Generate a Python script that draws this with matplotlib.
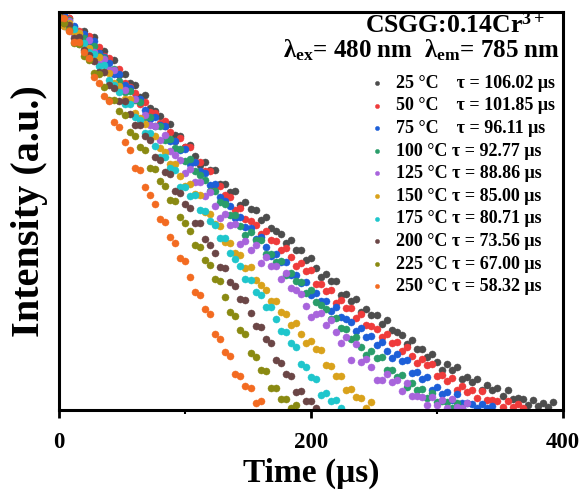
import matplotlib
matplotlib.use("Agg")
import matplotlib.pyplot as plt
from matplotlib.ticker import FixedLocator, NullLocator

plt.rcParams['font.family'] = ['Liberation Serif', 'DejaVu Serif']
plt.rcParams['font.weight'] = 'bold'
plt.rcParams['mathtext.fontset'] = 'custom'
plt.rcParams['mathtext.rm'] = 'Liberation Serif:bold'
plt.rcParams['mathtext.bf'] = 'Liberation Serif:bold'
plt.rcParams['mathtext.it'] = 'Liberation Serif:italic:bold'

# time channels (us)
time_us = [0, 4, 8, 12, 16, 20, 24, 28, 32, 36, 40, 44, 48, 52, 56, 60, 64, 68, 72, 76,
           80, 84, 88, 92, 96, 100, 104, 108, 112, 116, 120, 124, 128, 132, 136, 140,
           144, 148, 152, 156, 160, 164, 168, 172, 176, 180, 184, 188, 192, 196, 200,
           204, 208, 212, 216, 220, 224, 228, 232, 236, 240, 244, 248, 252, 256, 260,
           264, 268, 272, 276, 280, 284, 288, 292, 296, 300, 304, 308, 312, 316, 320,
           324, 328, 332, 336, 340, 344, 348, 352, 356, 360, 364, 368, 372, 376, 380,
           384, 388, 392, 396]

temps = ['25', '50', '75', '100', '125', '150', '175', '200', '225', '250']
taus = ['106.02', '101.85', '96.11', '92.77', '88.86', '85.00', '80.71', '73.56', '67.00', '58.32']
colors = ['#4d4d4d', '#ef3b3b', '#1d5fd8', '#2a9d6a', '#a864dc',
          '#d9a21b', '#1fc6cc', '#6b4646', '#8a8a12', '#f36b21']

# decay curves, log10(counts)
log_25C = [3.95, 3.88, 3.92, 3.83, 3.75, 3.79, 3.72, 3.73, 3.60, 3.59, 3.50, 3.50, 3.35, 3.36,
           3.27, 3.25, 3.13, 3.15, 3.02, 2.99, 2.94, 2.84, 2.86, 2.75, 2.74, 2.63, 2.65, 2.54,
           2.45, 2.48, 2.40, 2.40, 2.26, 2.26, 2.18, 2.19, 2.05, 2.08, 2.01, 2.00, 1.90, 1.93,
           1.82, 1.79, 1.76, 1.67, 1.70, 1.60, 1.60, 1.50, 1.52, 1.42, 1.33, 1.36, 1.29, 1.29,
           1.15, 1.16, 1.09, 1.11, 0.98, 1.01, 0.95, 0.95, 0.86, 0.90, 0.80, 0.78, 0.75, 0.66,
           0.70, 0.61, 0.61, 0.53, 0.56, 0.48, 0.40, 0.46, 0.40, 0.43, 0.31, 0.33, 0.28, 0.31,
           0.20, 0.25, 0.20, 0.22, 0.14, 0.20, 0.11, 0.12, 0.11, 0.05, 0.10, 0.04, 0.07, 0.03,
           0.08]
log_50C = [3.96, 3.91, 3.92, 3.78, 3.79, 3.72, 3.74, 3.60, 3.63, 3.54, 3.52, 3.39, 3.41, 3.27,
           3.23, 3.17, 3.06, 3.08, 2.98, 2.97, 2.87, 2.89, 2.78, 2.69, 2.72, 2.63, 2.63, 2.48,
           2.48, 2.39, 2.39, 2.23, 2.24, 2.15, 2.13, 2.00, 2.02, 1.91, 1.89, 1.85, 1.76, 1.79,
           1.70, 1.69, 1.60, 1.62, 1.53, 1.44, 1.47, 1.39, 1.40, 1.26, 1.26, 1.19, 1.20, 1.07,
           1.10, 1.02, 1.02, 0.92, 0.96, 0.85, 0.84, 0.81, 0.73, 0.76, 0.67, 0.68, 0.59, 0.63,
           0.54, 0.47, 0.51, 0.45, 0.46, 0.34, 0.35, 0.29, 0.32, 0.20, 0.24, 0.18, 0.20, 0.12,
           0.19, 0.10, 0.10, 0.09, 0.03, 0.09, 0.03, 0.06, 0.02]
log_75C = [3.93, 3.95, 3.81, 3.84, 3.76, 3.76, 3.65, 3.69, 3.57, 3.53, 3.47, 3.36, 3.36, 3.25,
           3.22, 3.11, 3.11, 3.00, 2.91, 2.93, 2.85, 2.84, 2.69, 2.69, 2.60, 2.61, 2.46, 2.48,
           2.39, 2.37, 2.25, 2.26, 2.13, 2.09, 2.04, 1.92, 1.93, 1.83, 1.82, 1.71, 1.73, 1.63,
           1.54, 1.56, 1.48, 1.48, 1.35, 1.35, 1.27, 1.28, 1.15, 1.17, 1.09, 1.09, 0.99, 1.03,
           0.93, 0.91, 0.88, 0.79, 0.82, 0.73, 0.74, 0.65, 0.68, 0.59, 0.52, 0.56, 0.49, 0.50,
           0.37, 0.38, 0.31, 0.33, 0.20, 0.23, 0.16, 0.18, 0.10, 0.16, 0.07, 0.07, 0.06, 0.02,
           0.06, 0.02, 0.04]
log_100C = [3.96, 3.87, 3.90, 3.78, 3.76, 3.72, 3.62, 3.64, 3.54, 3.52, 3.40, 3.41, 3.29, 3.18,
            3.19, 3.10, 3.08, 2.93, 2.93, 2.84, 2.84, 2.70, 2.71, 2.62, 2.61, 2.49, 2.51, 2.39,
            2.35, 2.30, 2.19, 2.19, 2.08, 2.06, 1.95, 1.95, 1.84, 1.75, 1.78, 1.70, 1.70, 1.56,
            1.56, 1.48, 1.49, 1.35, 1.37, 1.29, 1.28, 1.17, 1.20, 1.08, 1.05, 1.01, 0.91, 0.92,
            0.82, 0.81, 0.71, 0.73, 0.63, 0.55, 0.59, 0.52, 0.53, 0.40, 0.40, 0.33, 0.35, 0.23,
            0.27, 0.20, 0.21, 0.12, 0.17, 0.08, 0.09, 0.08, 0.02, 0.07, 0.02]
log_125C = [3.96, 3.84, 3.89, 3.76, 3.77, 3.65, 3.70, 3.58, 3.46, 3.51, 3.40, 3.40, 3.20, 3.20,
            3.09, 3.11, 2.91, 2.95, 2.85, 2.84, 2.70, 2.75, 2.59, 2.55, 2.50, 2.37, 2.41, 2.28,
            2.28, 2.14, 2.18, 2.04, 1.92, 1.96, 1.85, 1.86, 1.66, 1.69, 1.60, 1.65, 1.47, 1.53,
            1.44, 1.44, 1.31, 1.37, 1.22, 1.20, 1.16, 1.04, 0.93, 0.96, 0.97, 0.85, 0.90, 0.78,
            0.67, 0.73, 0.50, 0.66, 0.48, 0.51, 0.43, 0.30, 0.30, 0.36, 0.28, 0.30, 0.19, 0.27,
            0.14, 0.14, 0.13, 0.05, 0.13, 0.05, 0.10, 0.02, 0.11, 0.03, 0.02, 0.07]
log_150C = [3.94, 3.84, 3.87, 3.78, 3.77, 3.63, 3.62, 3.53, 3.53, 3.38, 3.37, 3.27, 3.24, 3.11,
            3.11, 2.97, 2.92, 2.86, 2.74, 2.74, 2.62, 2.58, 2.46, 2.46, 2.34, 2.24, 2.26, 2.16,
            2.15, 1.98, 1.96, 1.86, 1.84, 1.68, 1.67, 1.57, 1.55, 1.42, 1.43, 1.30, 1.25, 1.20,
            1.09, 1.09, 0.98, 0.96, 0.85, 0.87, 0.76, 0.67, 0.69, 0.61, 0.60, 0.45, 0.44, 0.34,
            0.34, 0.20, 0.21, 0.13, 0.12, 0.02, 0.08]
log_175C = [3.91, 3.90, 3.81, 3.81, 3.66, 3.67, 3.58, 3.56, 3.44, 3.45, 3.30, 3.25, 3.18, 3.06,
            3.06, 2.93, 2.90, 2.77, 2.77, 2.64, 2.53, 2.53, 2.42, 2.40, 2.23, 2.23, 2.14, 2.15,
            2.00, 1.99, 1.89, 1.85, 1.72, 1.72, 1.57, 1.51, 1.44, 1.31, 1.30, 1.18, 1.15, 1.03,
            1.03, 0.91, 0.79, 0.78, 0.67, 0.63, 0.46, 0.43, 0.33, 0.31, 0.15, 0.17, 0.09, 0.10,
            0.02]
log_200C = [3.96, 3.87, 3.85, 3.72, 3.73, 3.60, 3.55, 3.49, 3.38, 3.38, 3.25, 3.22, 3.09, 3.09,
            2.96, 2.85, 2.85, 2.74, 2.70, 2.53, 2.50, 2.38, 2.36, 2.19, 2.17, 2.06, 2.02, 1.87,
            1.87, 1.71, 1.65, 1.57, 1.43, 1.42, 1.28, 1.24, 1.11, 1.10, 0.97, 0.84, 0.83, 0.71,
            0.67, 0.50, 0.47, 0.36, 0.34, 0.18, 0.19, 0.09, 0.09, 0.02]
log_225C = [3.93, 3.87, 3.80, 3.67, 3.66, 3.54, 3.50, 3.37, 3.36, 3.23, 3.10, 3.10, 2.99, 2.95,
            2.78, 2.74, 2.63, 2.60, 2.42, 2.41, 2.29, 2.24, 2.10, 2.09, 1.93, 1.87, 1.79, 1.65,
            1.63, 1.50, 1.45, 1.31, 1.29, 1.13, 0.98, 0.94, 0.80, 0.76, 0.57, 0.53, 0.40, 0.39,
            0.22, 0.22, 0.11, 0.11, 0.02, 0.05]
log_250C = [3.92, 3.92, 3.79, 3.68, 3.68, 3.58, 3.52, 3.33, 3.27, 3.14, 3.09, 2.88, 2.83, 2.68,
            2.60, 2.42, 2.40, 2.23, 2.15, 2.06, 1.91, 1.88, 1.73, 1.67, 1.52, 1.49, 1.33, 1.18,
            1.15, 1.01, 0.96, 0.76, 0.71, 0.58, 0.54, 0.36, 0.34, 0.24, 0.22, 0.07, 0.09]

curves = [log_25C, log_50C, log_75C, log_100C, log_125C,
          log_150C, log_175C, log_200C, log_225C, log_250C]

fig = plt.figure(figsize=(5.8, 4.97), dpi=100)
ax = fig.add_axes([0.1017, 0.175, 0.869, 0.801])

for vals, temp, tau, col in zip(curves, temps, taus, colors):
    t = time_us[:len(vals)]
    counts = [10 ** v for v in vals]
    gap = '    ' if len(temp) == 2 else ' '
    ax.scatter(t, counts, s=26, color=col, edgecolors=col, linewidths=0.3,
               label=f'{temp} °C{gap}τ = {tau} μs', zorder=2)

ax.set_yscale('log')
ax.set_xlim(0, 400)
ax.set_ylim(1, 10 ** 3.98)

ax.xaxis.set_major_locator(FixedLocator([0, 200, 400]))
ax.xaxis.set_minor_locator(FixedLocator([100, 300]))
ax.yaxis.set_major_locator(NullLocator())
ax.yaxis.set_minor_locator(NullLocator())
ax.tick_params(axis='x', which='major', direction='out', length=6, width=2, labelsize=16.5, pad=10)
ax.tick_params(axis='x', which='minor', direction='out', length=3, width=1.5)
for sp in ax.spines.values():
    sp.set_linewidth(2.2)

ax.set_xlabel('Time (μs)', fontsize=24, fontweight='bold', labelpad=3)
ax.set_ylabel('Intensity (a.u.)', fontsize=29, fontweight='bold', labelpad=8)

ax.text(0.965, 0.967, 'CSGG:0.14Cr$^{\\mathbf{3+}}$', transform=ax.transAxes,
        ha='right', va='center', fontsize=18.5, fontweight='bold')
ax.text(0.995, 0.905, 'λ$_{\\mathbf{ex}}$= 480 nm  λ$_{\\mathbf{em}}$= 785 nm',
        transform=ax.transAxes, ha='right', va='center', fontsize=18, fontweight='bold')

leg = ax.legend(loc='upper right', bbox_to_anchor=(0.985, 0.842), frameon=False,
                fontsize=13, handletextpad=0.5, labelspacing=0.31, markerscale=0.6,
                borderaxespad=0, handlelength=1.2, borderpad=0)

fig.savefig('out.png', dpi=100)
